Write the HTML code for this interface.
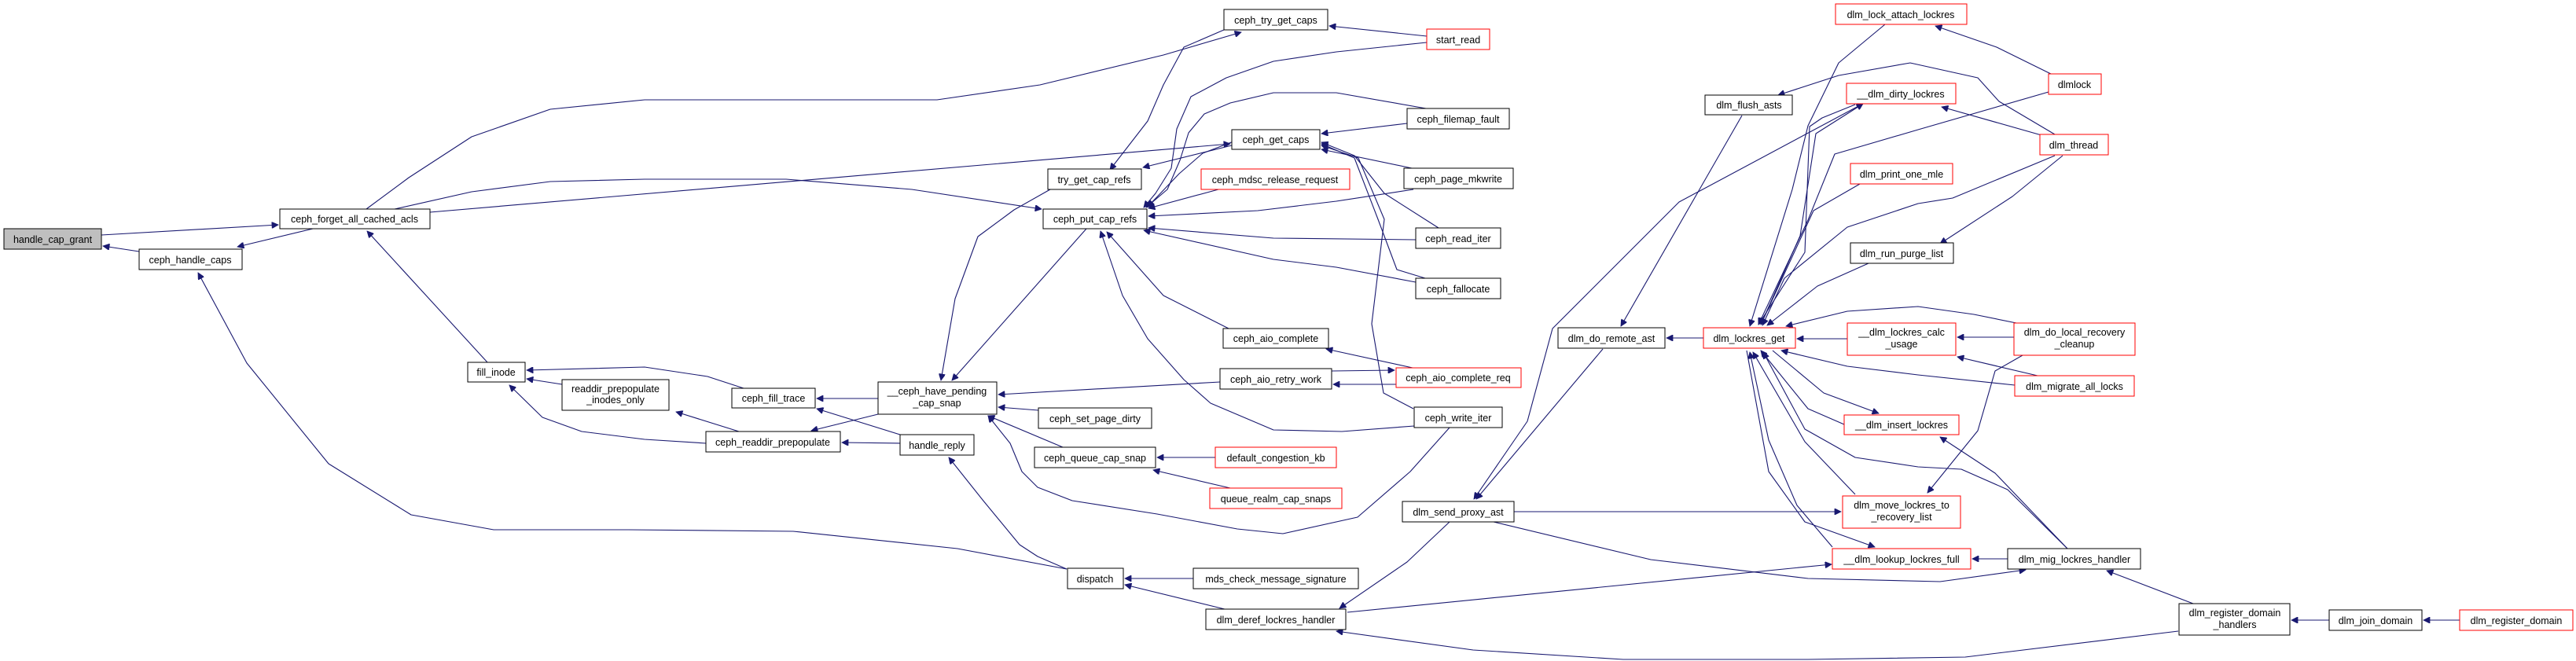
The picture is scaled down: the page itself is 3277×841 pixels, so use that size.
<!DOCTYPE html>
<html><head><meta charset="utf-8"><style>
html,body{margin:0;padding:0;background:#fff}
svg{display:block}
text{font-family:"Liberation Sans",sans-serif;font-size:12.5px;fill:#000}
.e{fill:none;stroke:#191970;stroke-width:1.1;stroke-linejoin:round;marker-end:url(#a)}
.n{fill:#fff;stroke:#000;stroke-width:1}
.r{fill:#fff;stroke:#ff0000;stroke-width:1}
</style></head><body>
<svg width="3277" height="841" viewBox="0 0 3277 841" xmlns="http://www.w3.org/2000/svg">
<defs><marker id="a" viewBox="0 0 10 10" refX="10" refY="5" markerWidth="11" markerHeight="8" markerUnits="userSpaceOnUse" orient="auto"><path d="M0,0 L10,5 L0,10 z" fill="#191970" stroke="#191970"/></marker></defs>
<g>
<polyline class="e" points="129,299 354,286"/>
<polyline class="e" points="177,320 131,313"/>
<polyline class="e" points="398,291 302,314"/>
<polyline class="e" points="1357,724 1218,698 1009,676 800,674 628,674 523,655 418,590 314,462 252,347"/>
<polyline class="e" points="620,461 467,294"/>
<polyline class="e" points="466,266 520,226 600,174 700,139 820,127 1192,127 1323,108 1480,70 1579,41"/>
<polyline class="e" points="547,270 1565,183"/>
<polyline class="e" points="502,266 600,244 700,231 820,228 1000,228 1160,241 1325,266"/>
<polyline class="e" points="946,494 900,479 820,467 670,471"/>
<polyline class="e" points="715,489 670,482"/>
<polyline class="e" points="898,564 820,559 740,549 690,531 648,490"/>
<polyline class="e" points="940,549 860,524"/>
<polyline class="e" points="1117,507 1039,507"/>
<polyline class="e" points="1117,527 1032,548"/>
<polyline class="e" points="1145,553 1039,520"/>
<polyline class="e" points="1145,564 1071,563"/>
<polyline class="e" points="1357,724 1320,708 1297,693 1250,636 1207,582"/>
<polyline class="e" points="1518,736 1431,736"/>
<polyline class="e" points="1562,776 1431,744"/>
<polyline class="e" points="1336,241 1290,267 1244,301 1215,380 1197,484"/>
<polyline class="e" points="1382,291 1211,484"/>
<polyline class="e" points="1552,486 1270,502"/>
<polyline class="e" points="1321,522 1270,518"/>
<polyline class="e" points="1352,569 1257,529"/>
<polyline class="e" points="1844,544 1794,600 1727,658 1632,679 1574,673 1472,654 1364,637 1320,620 1300,600 1285,564 1257,529"/>
<polyline class="e" points="1799,542 1707,549 1620,547 1540,513 1506,483 1460,431 1428,376 1400,294"/>
<polyline class="e" points="1563,418 1480,376 1408,295"/>
<polyline class="e" points="1797,468 1687,444"/>
<polyline class="e" points="1694,472 1774,471"/>
<polyline class="e" points="1776,489 1696,489"/>
<polyline class="e" points="1550,241 1461,265"/>
<polyline class="e" points="1798,241 1700,256 1600,268 1461,275"/>
<polyline class="e" points="1801,305 1620,303 1461,290"/>
<polyline class="e" points="1801,359 1700,340 1620,330 1455,293"/>
<polyline class="e" points="1815,54 1700,66 1620,78 1560,99 1515,123 1497,164 1490,214 1470,246 1455,264"/>
<polyline class="e" points="1814,138 1700,118 1620,118 1565,131 1532,145 1512,169 1501,204 1485,241 1458,264"/>
<polyline class="e" points="1569,180 1530,195 1500,221 1460,263"/>
<polyline class="e" points="1567,185 1454,213"/>
<polyline class="e" points="1557,38 1506,60 1480,108 1460,154 1412,216"/>
<polyline class="e" points="1815,46 1691,33"/>
<polyline class="e" points="1790,157 1681,170"/>
<polyline class="e" points="1796,214 1681,190"/>
<polyline class="e" points="1830,290 1761,246 1723,198 1681,181"/>
<polyline class="e" points="1813,354 1777,343 1753,279 1723,201 1681,183"/>
<polyline class="e" points="1798,520 1760,500 1745,412 1761,279 1728,201 1681,185"/>
<polyline class="e" points="1546,582 1472,582"/>
<polyline class="e" points="1565,621 1467,598"/>
<polyline class="e" points="1844,664 1790,715 1704,774"/>
<polyline class="e" points="1714,779 2330,718"/>
<polyline class="e" points="2771,803 2500,836 2300,839 2065,839 1874,827 1700,803"/>
<polyline class="e" points="2039,444 1878,635"/>
<polyline class="e" points="2366,134 2136,257 1975,418 1943,536 1875,635"/>
<polyline class="e" points="1926,651 2342,651"/>
<polyline class="e" points="1900,664 2100,712 2300,736 2468,740 2577,725"/>
<polyline class="e" points="2614,171 2543,129 2516,99 2430,80 2339,96 2262,121"/>
<polyline class="e" points="2216,147 2062,415"/>
<polyline class="e" points="2167,430 2120,430"/>
<polyline class="e" points="2398,31 2339,80 2300,160 2280,241 2226,415"/>
<polyline class="e" points="2360,133 2318,150 2302,161 2296,321 2237,413"/>
<polyline class="e" points="2240,413 2290,300 2310,170 2370,132"/>
<polyline class="e" points="2606,117 2440,165 2334,196 2300,280 2237,413"/>
<polyline class="e" points="2366,234 2307,268 2240,413"/>
<polyline class="e" points="2614,198 2484,252 2440,259 2350,289 2270,354 2242,414"/>
<polyline class="e" points="2377,335 2312,364 2248,414"/>
<polyline class="e" points="2570,412 2511,400 2440,390 2350,396 2272,415"/>
<polyline class="e" points="2350,431 2286,431"/>
<polyline class="e" points="2563,490 2440,477 2350,466 2266,446"/>
<polyline class="e" points="2346,540 2300,520 2240,446"/>
<polyline class="e" points="2255,446 2320,500 2390,526"/>
<polyline class="e" points="2630,698 2554,623 2495,597 2440,594 2360,582 2296,546 2243,448"/>
<polyline class="e" points="2360,629 2296,562 2230,448"/>
<polyline class="e" points="2331,696 2286,643 2250,560 2226,448"/>
<polyline class="e" points="2222,446 2250,600 2296,664 2385,696"/>
<polyline class="e" points="2562,429 2490,429"/>
<polyline class="e" points="2592,478 2490,454"/>
<polyline class="e" points="2573,452 2538,472 2516,548 2452,627"/>
<polyline class="e" points="2630,698 2538,602 2468,556"/>
<polyline class="e" points="2554,711 2509,711"/>
<polyline class="e" points="2790,768 2680,726"/>
<polyline class="e" points="2963,789 2915,789"/>
<polyline class="e" points="3129,789 3083,789"/>
<polyline class="e" points="2611,95 2540,60 2462,33"/>
<polyline class="e" points="2597,172 2470,136"/>
<polyline class="e" points="2624,198 2560,250 2468,310"/>
</g>
<g text-anchor="middle">
<rect x="5" y="291" width="124" height="26" fill="#bfbfbf" stroke="#000"/><text x="67" y="309">handle_cap_grant</text>
<rect class="n" x="177" y="317" width="131" height="26"/><text x="242" y="335">ceph_handle_caps</text>
<rect class="n" x="356" y="266" width="191" height="25"/><text x="451" y="283">ceph_forget_all_cached_acls</text>
<rect class="n" x="595" y="461" width="73" height="25"/><text x="631" y="478">fill_inode</text>
<rect class="n" x="715" y="483" width="136" height="39"/><text x="783" y="499">readdir_prepopulate</text><text x="783" y="513">_inodes_only</text>
<rect class="n" x="1557" y="12" width="132" height="26"/><text x="1623" y="30">ceph_try_get_caps</text>
<rect class="n" x="1333" y="215" width="119" height="26"/><text x="1392" y="233">try_get_cap_refs</text>
<rect class="n" x="1327" y="266" width="132" height="25"/><text x="1393" y="283">ceph_put_cap_refs</text>
<rect class="n" x="1567" y="165" width="112" height="25"/><text x="1623" y="182">ceph_get_caps</text>
<rect class="r" x="1528" y="215" width="189" height="26"/><text x="1622" y="233">ceph_mdsc_release_request</text>
<rect class="n" x="1556" y="418" width="134" height="25"/><text x="1623" y="435">ceph_aio_complete</text>
<rect class="n" x="1552" y="469" width="142" height="26"/><text x="1623" y="487">ceph_aio_retry_work</text>
<rect class="n" x="1117" y="486" width="151" height="41"/><text x="1192" y="502">__ceph_have_pending</text><text x="1192" y="517">_cap_snap</text>
<rect class="n" x="931" y="494" width="106" height="25"/><text x="984" y="511">ceph_fill_trace</text>
<rect class="n" x="898" y="549" width="171" height="26"/><text x="983" y="567">ceph_readdir_prepopulate</text>
<rect class="n" x="1145" y="553" width="94" height="26"/><text x="1192" y="571">handle_reply</text>
<rect class="n" x="1321" y="519" width="144" height="26"/><text x="1393" y="537">ceph_set_page_dirty</text>
<rect class="n" x="1316" y="569" width="154" height="26"/><text x="1393" y="587">ceph_queue_cap_snap</text>
<rect class="r" x="1546" y="569" width="154" height="26"/><text x="1623" y="587">default_congestion_kb</text>
<rect class="r" x="1539" y="621" width="168" height="26"/><text x="1623" y="639">queue_realm_cap_snaps</text>
<rect class="n" x="1358" y="723" width="71" height="26"/><text x="1393" y="741">dispatch</text>
<rect class="n" x="1518" y="723" width="210" height="26"/><text x="1623" y="741">mds_check_message_signature</text>
<rect class="n" x="1534" y="775" width="178" height="26"/><text x="1623" y="793">dlm_deref_lockres_handler</text>
<rect class="r" x="1815" y="37" width="80" height="26"/><text x="1855" y="55">start_read</text>
<rect class="n" x="1790" y="138" width="130" height="26"/><text x="1855" y="156">ceph_filemap_fault</text>
<rect class="n" x="1786" y="214" width="139" height="26"/><text x="1855" y="232">ceph_page_mkwrite</text>
<rect class="n" x="1801" y="290" width="108" height="26"/><text x="1855" y="308">ceph_read_iter</text>
<rect class="n" x="1801" y="354" width="108" height="26"/><text x="1855" y="372">ceph_fallocate</text>
<rect class="r" x="1776" y="468" width="159" height="25"/><text x="1855" y="485">ceph_aio_complete_req</text>
<rect class="n" x="1799" y="518" width="112" height="26"/><text x="1855" y="536">ceph_write_iter</text>
<rect class="n" x="1784" y="638" width="142" height="26"/><text x="1855" y="656">dlm_send_proxy_ast</text>
<rect class="n" x="1982" y="417" width="136" height="26"/><text x="2050" y="435">dlm_do_remote_ast</text>
<rect class="r" x="2167" y="417" width="117" height="26"/><text x="2225" y="435">dlm_lockres_get</text>
<rect class="n" x="2169" y="121" width="111" height="25"/><text x="2225" y="138">dlm_flush_asts</text>
<rect class="r" x="2335" y="5" width="167" height="26"/><text x="2418" y="23">dlm_lock_attach_lockres</text>
<rect class="r" x="2349" y="106" width="139" height="26"/><text x="2418" y="124">__dlm_dirty_lockres</text>
<rect class="r" x="2354" y="208" width="130" height="26"/><text x="2419" y="226">dlm_print_one_mle</text>
<rect class="n" x="2354" y="309" width="131" height="26"/><text x="2419" y="327">dlm_run_purge_list</text>
<rect class="r" x="2350" y="411" width="138" height="41"/><text x="2419" y="427">__dlm_lockres_calc</text><text x="2419" y="442">_usage</text>
<rect class="r" x="2346" y="528" width="146" height="25"/><text x="2419" y="545">__dlm_insert_lockres</text>
<rect class="r" x="2344" y="631" width="150" height="41"/><text x="2419" y="647">dlm_move_lockres_to</text><text x="2419" y="662">_recovery_list</text>
<rect class="r" x="2331" y="698" width="176" height="26"/><text x="2419" y="716">__dlm_lookup_lockres_full</text>
<rect class="r" x="2606" y="94" width="67" height="26"/><text x="2639" y="112">dlmlock</text>
<rect class="r" x="2595" y="171" width="87" height="26"/><text x="2638" y="189">dlm_thread</text>
<rect class="r" x="2562" y="411" width="154" height="41"/><text x="2639" y="427">dlm_do_local_recovery</text><text x="2639" y="442">_cleanup</text>
<rect class="r" x="2563" y="478" width="152" height="26"/><text x="2639" y="496">dlm_migrate_all_locks</text>
<rect class="n" x="2554" y="698" width="169" height="26"/><text x="2639" y="716">dlm_mig_lockres_handler</text>
<rect class="n" x="2772" y="768" width="141" height="40"/><text x="2843" y="784">dlm_register_domain</text><text x="2843" y="799">_handlers</text>
<rect class="n" x="2963" y="776" width="118" height="26"/><text x="3022" y="794">dlm_join_domain</text>
<rect class="r" x="3129" y="776" width="144" height="26"/><text x="3201" y="794">dlm_register_domain</text>
</g>
</svg>
</body></html>
